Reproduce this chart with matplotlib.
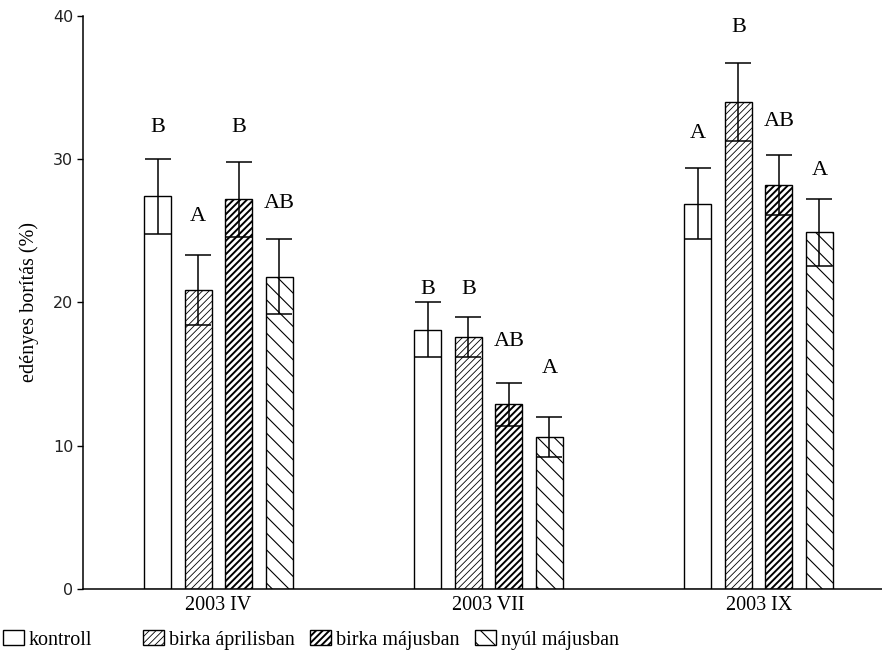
import numpy as np
import matplotlib.pyplot as plt

plt.rcParams['font.family'] = ['Liberation Serif', 'DejaVu Serif']

groups = ['2003 IV', '2003 VII', '2003 IX']
treatments = ['kontroll', 'birka áprilisban', 'birka májusban', 'nyúl májusban']

# mean cover and standard error, one row per treatment
means = [
    [27.4, 18.1, 26.9],
    [20.9, 17.6, 34.0],
    [27.2, 12.9, 28.2],
    [21.8, 10.6, 24.9],
]
errors = [
    [2.65, 1.9, 2.5],
    [2.45, 1.4, 2.75],
    [2.6, 1.5, 2.1],
    [2.6, 1.4, 2.35],
]
letters = [
    ['B', 'B', 'A'],
    ['A', 'B', 'B'],
    ['B', 'AB', 'AB'],
    ['AB', 'A', 'A'],
]
letter_y = [
    [32.2, 20.9, 31.8],
    [26.0, 20.9, 39.2],
    [32.2, 17.3, 32.6],
    [26.9, 15.4, 29.2],
]

hatches = [None, '/////', '/////', '\\\\']
hatch_lw = [0.6, 0.6, 1.4, 0.8]


def set_hlw(patch, lw):
    if hasattr(patch, 'set_hatch_linewidth'):
        patch.set_hatch_linewidth(lw)


fig = plt.figure(figsize=(8.82, 6.63), dpi=100)
ax = fig.add_axes([0.0941, 0.1116, 0.906, 0.8643])

x = np.arange(len(groups))
width = 0.1
step = 0.15
offsets = (np.arange(len(treatments)) - 1.5) * step

handles = []
for i, name in enumerate(treatments):
    with plt.rc_context({'hatch.linewidth': hatch_lw[i]}):
        bars = ax.bar(x + offsets[i], means[i], width, color='white',
                      edgecolor='black', linewidth=1.0, hatch=hatches[i],
                      label=name, zorder=2)
    for b in bars:
        set_hlw(b, hatch_lw[i])
    handles.append(bars)
    ax.errorbar(x + offsets[i], means[i], yerr=errors[i], fmt='none',
                ecolor='black', elinewidth=1.1, capsize=9.7, capthick=1.1,
                zorder=3)
    for j in range(len(groups)):
        ax.text(x[j] + offsets[i], letter_y[i][j], letters[i][j],
                ha='center', va='center', fontsize=16)

ax.set_xlim(-0.502, 2.457)
ax.set_ylim(0, 40)
ax.set_yticks([0, 10, 20, 30, 40])
ax.set_xticks(x)
ax.set_xticklabels(groups, fontsize=14.5)
ax.tick_params(axis='x', length=0, pad=5)
ax.tick_params(axis='y', length=4, width=1, direction='out', pad=3)
for lbl in ax.get_yticklabels():
    lbl.set_family(['DejaVu Sans'])
    lbl.set_fontsize(11.5)
    lbl.set_color('#222222')

ax.set_ylabel('edényes borítás (%)', fontsize=14.5, labelpad=10)
ax.spines['top'].set_visible(False)
ax.spines['right'].set_visible(False)
ax.spines['left'].set_linewidth(1.1)
ax.spines['bottom'].set_linewidth(1.1)

# legend along the bottom: kontroll on its own, the three grazing treatments after a gap
leg_kw = dict(loc='lower left', frameon=False, fontsize=14.5,
              handlelength=1.05, handleheight=0.8, handletextpad=0.25,
              columnspacing=0.75, borderaxespad=0.0)
leg1 = fig.legend(handles=handles[:1], labels=treatments[:1],
                  bbox_to_anchor=(-0.006, 0.008), ncol=1, **leg_kw)
leg2 = fig.legend(handles=handles[1:], labels=treatments[1:],
                  bbox_to_anchor=(0.153, 0.008), ncol=3, **leg_kw)
for p, lw in zip(leg1.get_patches() + leg2.get_patches(), hatch_lw):
    set_hlw(p, lw)

fig.savefig('out.png', dpi=100)
